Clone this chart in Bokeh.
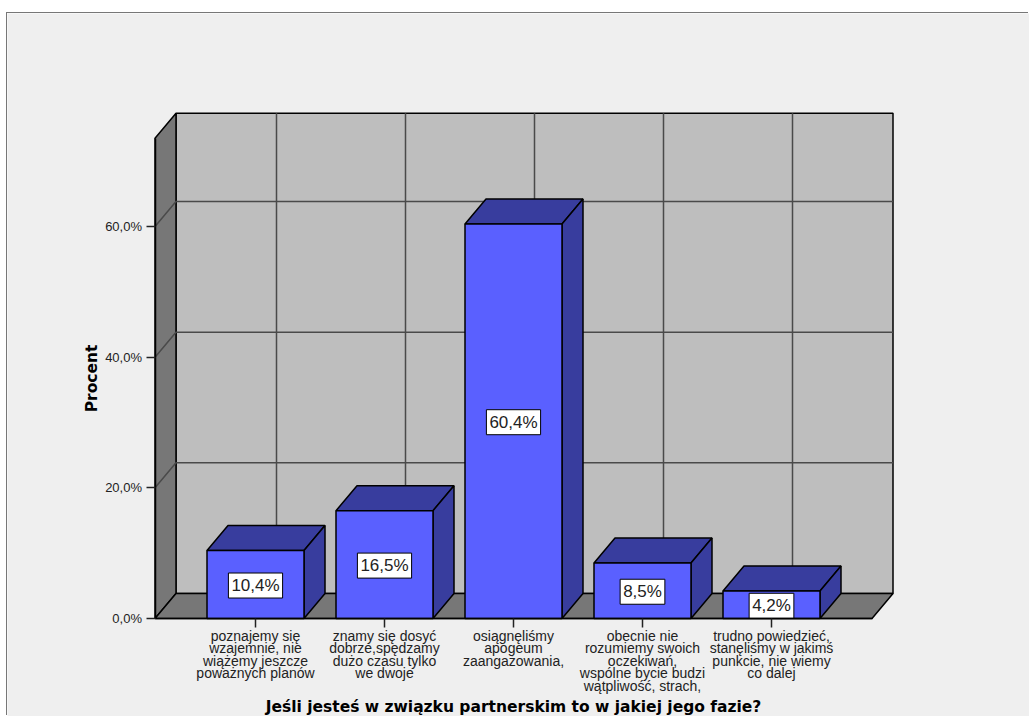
import math

from bokeh.core.properties import value
from bokeh.embed import file_html
from bokeh.models import FixedTicker, Range1d
from bokeh.plotting import figure
from bokeh.resources import INLINE

# Survey results
categories = [
    "poznajemy się\nwzajemnie, nie\nwiążemy jeszcze\npoważnych planów",
    "znamy się dosyć\ndobrze,spędzamy\ndużo czasu tylko\nwe dwoje",
    "osiągnęliśmy\napogeum\nzaangażowania,",
    "obecnie nie\nrozumiemy swoich\noczekiwań,\nwspólne bycie budzi\nwątpliwość, strach,",
    "trudno powiedzieć,\nstanęliśmy w jakimś\npunkcie, nie wiemy\nco dalej",
]
percent = [10.4, 16.5, 60.4, 8.5, 4.2]
percent_labels = ["10,4%", "16,5%", "60,4%", "8,5%", "4,2%"]
y_ticks = [0, 20, 40, 60]
y_tick_labels = ["0,0%", "20,0%", "40,0%", "60,0%"]
x_title = "Jeśli jesteś w związku partnerskim to w jakiej jego fazie?"
y_title = "Procent"

# Scale of the drawing area and the oblique 3D projection.
# The plot frame fills the whole panel; axes are pinned inside it.
PX_PER_CATEGORY = 129.0
PX_PER_PERCENT = 6.533
PANEL_W, PANEL_H = 1022, 703
PANEL_LEFT_OF_FIRST_BAR = 248.0
PANEL_TOP_ABOVE_ZERO = 605.0
X_MIN = -PANEL_LEFT_OF_FIRST_BAR / PX_PER_CATEGORY
Y_TOP = PANEL_TOP_ABOVE_ZERO / PX_PER_PERCENT
X_START = -100.5 / PX_PER_CATEGORY
X_END_FRONT = X_START + 717 / PX_PER_CATEGORY
Y_MAX = 73.5
DEPTH_X = 21 / PX_PER_CATEGORY
DEPTH_Y = 25 / PX_PER_PERCENT
BAR_HALF = 48.5 / PX_PER_CATEGORY

WALL = "#BEBEBE"
SIDE = "#777777"
GRID = "#4A4A4A"
FRONT = "#5A60FF"
SHADE = "#383D9E"
INK = "#222222"

p = figure(
    width=PANEL_W, height=PANEL_H, margin=(13, 0, 0, 7),
    x_range=Range1d(X_MIN, X_MIN + PANEL_W / PX_PER_CATEGORY),
    y_range=Range1d(Y_TOP - PANEL_H / PX_PER_PERCENT, Y_TOP),
    output_backend="svg", toolbar_location=None,
    min_border=0,
    border_fill_color="#EFEFEF", background_fill_color="#EFEFEF", outline_line_color=None,
)
p.styles = {"box-shadow": "-1px -1px 0 #777777"}
p.grid.visible = False

xl, xr = X_START, X_END_FRONT
bl, br = xl + DEPTH_X, xr + DEPTH_X
top = Y_MAX + DEPTH_Y

# Back wall, left wall and floor
p.patch([bl, br, br, bl], [DEPTH_Y, DEPTH_Y, top, top], fill_color=WALL, line_color="black", line_width=1.5)
p.patch([xl, bl, bl, xl], [0, DEPTH_Y, top, Y_MAX], fill_color=SIDE, line_color="black", line_width=1.5)
p.patch([xl, xr, br, bl], [0, 0, DEPTH_Y, DEPTH_Y], fill_color=SIDE, line_color="black", line_width=1.5)

# Grid lines running along the walls
grid_xs, grid_ys = [], []
for t in y_ticks[1:]:
    grid_xs.append([xl, bl, br])
    grid_ys.append([t, t + DEPTH_Y, t + DEPTH_Y])
for i in range(len(categories)):
    grid_xs.append([i + DEPTH_X, i + DEPTH_X])
    grid_ys.append([DEPTH_Y, top])
p.multi_line(grid_xs, grid_ys, line_color=GRID, line_width=1.5)

# Each bar: roof and side in the darker shade, then the front face
for i, v in enumerate(percent):
    x0, x1 = i - BAR_HALF, i + BAR_HALF
    p.patch([x0, x1, x1 + DEPTH_X, x0 + DEPTH_X], [v, v, v + DEPTH_Y, v + DEPTH_Y],
            fill_color=SHADE, line_color="black", line_width=1.5)
    p.patch([x1, x1 + DEPTH_X, x1 + DEPTH_X, x1], [0, DEPTH_Y, v + DEPTH_Y, v],
            fill_color=SHADE, line_color="black", line_width=1.5)
    p.quad(left=x0, right=x1, bottom=0, top=v, fill_color=FRONT, line_color="black", line_width=1.5)

# Value labels in white boxes, centred on the bars
p.text(
    x=list(range(len(percent))), y=[v / 2 for v in percent], text=percent_labels,
    text_align="center", text_baseline="middle", y_offset=1,
    text_font=value("Liberation Sans"), text_font_size="17px", text_color="#222222",
    background_fill_color="white", border_line_color="black", border_line_width=1, padding=3,
)

# Axes pinned to the front floor edge and the front of the side wall
xa = p.xaxis[0]
xa.fixed_location = 0
xa.ticker = FixedTicker(ticks=list(range(len(categories))))
xa.major_label_overrides = {i: c for i, c in enumerate(categories)}
xa.bounds = (X_START, X_END_FRONT)
xa.axis_line_color = "black"
xa.axis_line_width = 1.5
xa.major_tick_line_color = INK
xa.major_tick_line_width = 1.5
xa.major_tick_in = 0
xa.major_tick_out = 9
xa.minor_tick_line_color = None
xa.major_label_standoff = 0
xa.major_label_text_font = "Liberation Sans"
xa.major_label_text_font_size = "14px"
xa.major_label_text_color = INK
xa.major_label_text_line_height = 0.79

ya = p.yaxis[0]
ya.fixed_location = X_START
ya.ticker = FixedTicker(ticks=y_ticks)
ya.major_label_overrides = dict(zip(y_ticks, y_tick_labels))
ya.bounds = (0, Y_MAX)
ya.axis_line_color = "black"
ya.axis_line_width = 1.5
ya.major_tick_line_color = INK
ya.major_tick_line_width = 1.5
ya.major_tick_in = 0
ya.major_tick_out = 9
ya.minor_tick_line_color = None
ya.major_label_standoff = 4
ya.major_label_text_font = "Liberation Sans"
ya.major_label_text_font_size = "13px"
ya.major_label_text_color = INK

# Axis titles: centred under the middle category and beside the middle of the value axis
p.text(
    x=[(len(categories) - 1) / 2], y=[0], text=[x_title], y_offset=88,
    text_align="center", text_baseline="middle",
    text_font=value("DejaVu Sans"), text_font_style="bold", text_font_size="15.5px", text_color="black",
)
p.text(
    x=[X_START], y=[Y_MAX / 2], text=[y_title], x_offset=-63, angle=math.pi / 2,
    text_align="center", text_baseline="middle",
    text_font=value("DejaVu Sans"), text_font_style="bold", text_font_size="15.5px", text_color="black",
)

open("out.html", "w").write(file_html(p, INLINE))
